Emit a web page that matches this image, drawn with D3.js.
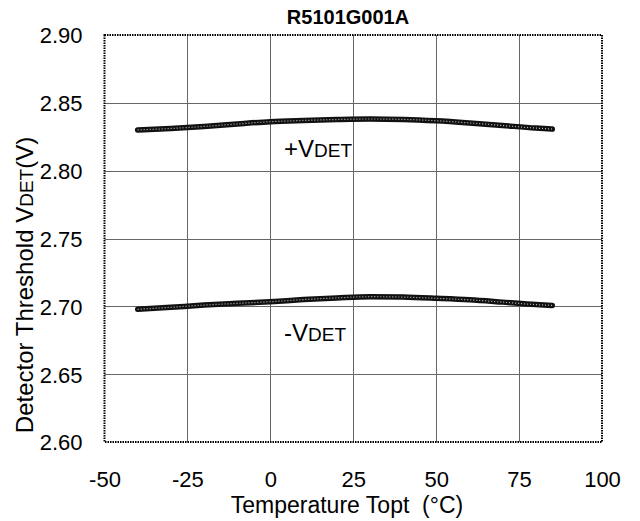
<!DOCTYPE html>
<html><head><meta charset="utf-8">
<script src="https://cdn.jsdelivr.net/npm/d3@7"></script>
<style>body{margin:0;background:#fff}svg{display:block;font-family:"Liberation Sans",Arial,sans-serif}</style>
</head><body><svg id="c" width="640" height="521"></svg>
<script>
const temps = [-40,-30,-20,-10,0,10,20,30,40,50,60,70,80,85];
const upperVdet = [2.8300,2.8311,2.8326,2.8344,2.8361,2.8370,2.8377,2.8381,2.8378,2.8368,2.8352,2.8333,2.8314,2.8307];
const lowerVdet = [2.6978,2.6993,2.7009,2.7022,2.7034,2.7050,2.7062,2.7071,2.7068,2.7059,2.7048,2.7031,2.7013,2.7007];
const xTicks = [-50,-25,0,25,50,75,100];
const yTicks = [2.60,2.65,2.70,2.75,2.80,2.85,2.90];
const title = "R5101G001A";

const svg = d3.select("#c");
const L=104.5, R=602, T=35, B=442;
const x = d3.scaleLinear().domain([-50,100]).range([L,R]);
const y = d3.scaleLinear().domain([2.60,2.90]).range([B,T]);
const FF = "Liberation Sans, Arial, sans-serif";

// grid
const g = svg.append("g");
g.selectAll(".vg").data(xTicks.slice(1,-1)).join("line")
  .attr("x1",d=>Math.round(x(d))+0.5).attr("x2",d=>Math.round(x(d))+0.5)
  .attr("y1",T).attr("y2",B).attr("stroke","#666").attr("stroke-width",1);
g.selectAll(".hg").data(yTicks.slice(1,-1)).join("line")
  .attr("y1",d=>Math.round(y(d))+0.5).attr("y2",d=>Math.round(y(d))+0.5)
  .attr("x1",L).attr("x2",R).attr("stroke","#666").attr("stroke-width",1);

// border (dotted)
svg.append("rect").attr("x",L).attr("y",T).attr("width",R-L).attr("height",B-T)
  .attr("fill","none").attr("stroke","#000").attr("stroke-width",2).attr("stroke-dasharray","1.5,1");

// axes labels
const xa = svg.append("g").attr("transform",`translate(0,${B})`)
  .call(d3.axisBottom(x).tickValues(xTicks).tickSize(0).tickPadding(29.5).tickFormat(d=>String(d)));
xa.select(".domain").remove();
xa.selectAll("text").attr("font-size",22).attr("fill","#000").attr("font-family",FF);

const ya = svg.append("g").attr("transform",`translate(${L},0)`)
  .call(d3.axisLeft(y).tickValues(yTicks).tickSize(0).tickPadding(22).tickFormat(d3.format(".2f")));
ya.select(".domain").remove();
ya.selectAll("text").attr("font-size",22).attr("fill","#000").attr("dy","0.36em").attr("font-family",FF);

// curves
const line = d3.line().x(d=>x(d[0])).y(d=>y(d[1])).curve(d3.curveMonotoneX);
[upperVdet, lowerVdet].forEach(vals=>{
  const pts = temps.map((t,i)=>[t,vals[i]]);
  svg.append("path").datum(pts).attr("d",line).attr("fill","none")
    .attr("stroke","#111").attr("stroke-width",5.5).attr("stroke-linecap","round");
  svg.append("path").datum(pts).attr("d",line).attr("fill","none")
    .attr("stroke","#fff").attr("stroke-width",1.2).attr("stroke-dasharray","1,2").attr("opacity",0.75);
});

// title
svg.append("text").attr("x",348).attr("y",24).attr("text-anchor","middle")
  .attr("font-size",20).attr("font-weight","bold").text(title);

// x title
svg.append("text").attr("x",347).attr("y",513).attr("text-anchor","middle")
  .attr("font-size",23).attr("xml:space","preserve").text("Temperature Topt  (°C)");

// y title
const yt = svg.append("text").attr("transform","translate(33,285) rotate(-90)").attr("text-anchor","middle").attr("font-size",24);
yt.append("tspan").text("Detector Threshold V");
yt.append("tspan").attr("font-size",19).text("DET");
yt.append("tspan").text("(V)");

// annotations
function ann(xp, yp, sign){
  const t = svg.append("text").attr("x",xp).attr("y",yp).attr("font-size",24);
  t.append("tspan").text(sign+"V");
  t.append("tspan").attr("font-size",19).text("DET");
}
ann(284,157,"+");
ann(284,341,"-");
</script></body></html>
